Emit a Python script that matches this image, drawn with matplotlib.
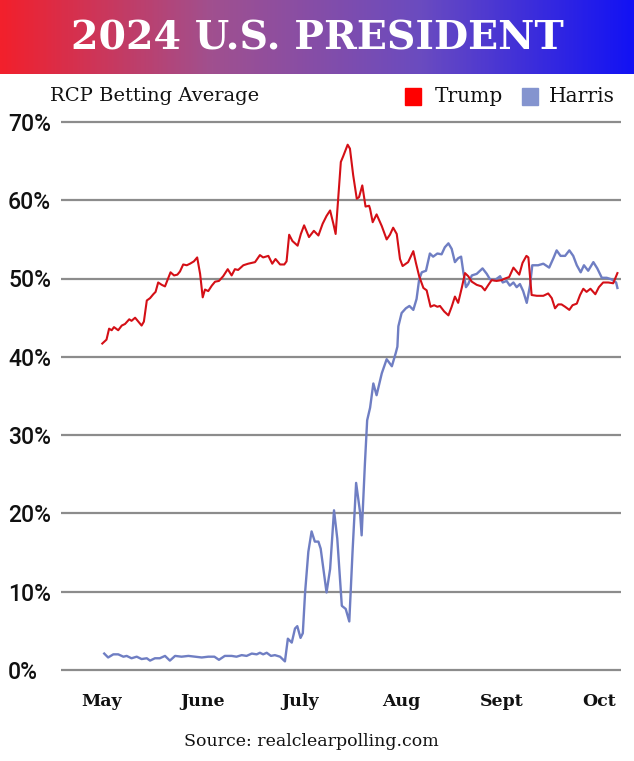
import numpy as np
import matplotlib
matplotlib.use("Agg")
import matplotlib.pyplot as plt
from matplotlib.colors import LinearSegmentedColormap
from matplotlib.patches import Rectangle

# RCP betting average, days counted from May 1 2024
trump_day = [0.1, 1.4, 2.2, 3.0, 3.7, 5.0, 6.1, 7.1, 8.4, 9.1, 10.2, 11.2, 12.2, 12.9,
             13.8, 14.8, 15.8, 16.5, 17.3, 18.4, 19.4, 21.1, 22.2, 23.2, 24.0, 25.0,
             26.1, 27.1, 28.3, 29.3, 30.2, 31.0, 31.7, 32.7, 33.8, 34.8, 36.0, 37.3,
             38.7, 39.9, 40.9, 41.9, 43.5, 45.0, 47.1, 48.6, 49.6, 51.2, 52.4, 53.4,
             54.8, 56.1, 56.8, 57.6, 58.6, 60.2, 61.2, 62.2, 63.7, 65.2, 66.6, 67.9,
             69.1, 70.2, 71.2, 71.9, 73.5, 74.2, 75.6, 76.3, 77.3, 78.4, 79.1, 80.1,
             81.1, 82.2, 82.5, 83.3, 84.5, 86.1, 87.6, 88.6, 89.6, 90.7, 91.7, 92.5,
             94.2, 95.8, 96.6, 97.6, 98.9, 99.9, 101.1, 102.2, 103.2, 104.0, 105.3,
             106.6, 107.6, 108.6, 109.6, 110.7, 111.7, 112.7, 113.8, 115.3, 116.8,
             117.8, 118.9, 119.9, 121.4, 123.0, 124.0, 125.3, 126.6, 127.6, 128.4,
             129.4, 130.6, 131.2, 132.2, 133.8, 135.8, 137.3, 138.4, 139.4, 140.4,
             141.4, 142.5, 143.8, 144.8, 146.1, 147.1, 148.1, 149.1, 150.3, 151.8,
             152.9, 154.2, 155.8, 157.3, 158.6]
trump_pct = [41.7, 42.2, 43.6, 43.4, 43.8, 43.4, 44.0, 44.2, 44.8, 44.6, 45.0, 44.5, 44.0, 44.5,
             47.2, 47.5, 48.0, 48.3, 49.5, 49.2, 49.0, 50.8, 50.4, 50.5, 50.9, 51.8,
             51.7, 51.9, 52.2, 52.7, 50.6, 47.6, 48.6, 48.4, 49.1, 49.6, 49.7, 50.3,
             51.2, 50.4, 51.2, 51.1, 51.7, 51.9, 52.1, 53.0, 52.7, 52.9, 51.9, 52.5,
             51.8, 51.8, 52.2, 55.6, 54.8, 54.2, 55.7, 56.8, 55.3, 56.1, 55.5, 57.0,
             58.0, 58.7, 57.0, 55.7, 64.9, 65.6, 67.1, 66.6, 63.2, 60.2, 60.4, 61.9,
             59.2, 59.3, 58.9, 57.2, 58.2, 56.7, 55.0, 55.6, 56.5, 55.7, 52.5, 51.6,
             52.1, 53.5, 52.0, 50.3, 48.8, 48.5, 46.4, 46.6, 46.4, 46.5, 45.8,
             45.3, 46.4, 47.7, 46.9, 48.8, 50.7, 50.3, 49.6, 49.2, 49.0,
             48.5, 49.2, 49.8, 49.7, 49.8, 50.0, 50.2, 51.4, 50.9, 50.5,
             52.0, 52.9, 52.7, 47.9, 47.8, 47.8, 48.1, 47.5, 46.2, 46.7,
             46.7, 46.4, 46.0, 46.6, 46.8, 47.9, 48.7, 48.3, 48.7, 48.0,
             48.9, 49.5, 49.5, 49.4, 50.7]

harris_day = [0.7, 1.9, 3.5, 5.0, 6.6, 7.6, 9.1, 10.7, 12.2, 13.8, 14.8, 16.3, 17.8, 19.4,
              20.9, 22.5, 24.5, 26.6, 28.6, 30.7, 32.7, 34.6, 36.0, 37.8, 39.9, 41.4,
              43.0, 44.5, 46.1, 47.6, 48.6, 49.6, 50.7, 52.0, 53.2, 54.8, 56.3, 57.2,
              58.4, 59.4, 60.1, 61.1, 61.8, 62.5, 63.5, 64.5, 65.5, 66.6, 67.3, 69.1,
              70.2, 71.4, 72.4, 73.8, 75.0, 76.1, 77.1, 78.2, 79.4, 79.9, 80.9, 81.6,
              82.5, 83.5, 84.5, 86.1, 87.6, 89.2, 90.4, 90.9, 91.2, 92.2, 93.5, 94.6,
              95.8, 96.8, 97.6, 98.4, 99.7, 100.9, 101.9, 103.2, 104.5, 105.5, 106.6,
              107.6, 108.6, 109.6, 110.5, 111.2, 112.0, 112.7, 113.8, 115.3, 117.1,
              118.4, 119.4, 120.9, 122.5, 123.3, 124.5, 125.5, 126.6, 127.6, 128.6,
              129.6, 130.7, 131.7, 132.4, 134.2, 135.8, 137.6, 138.9, 139.9, 141.1,
              142.5, 143.8, 145.0, 146.1, 147.3, 148.3, 149.6, 151.2, 152.4, 153.8,
              155.3, 156.8, 158.2, 158.6]
harris_pct = [2.1, 1.6, 2.0, 2.0, 1.7, 1.8, 1.5, 1.7, 1.4, 1.5, 1.2, 1.5, 1.5, 1.8,
              1.2, 1.8, 1.7, 1.8, 1.7, 1.6, 1.7, 1.7, 1.3, 1.8, 1.8, 1.7,
              1.9, 1.8, 2.1, 2.0, 2.2, 2.0, 2.2, 1.8, 1.9, 1.7, 1.1, 4.0,
              3.5, 5.3, 5.6, 4.1, 4.7, 9.9, 15.1, 17.7, 16.4, 16.4, 15.5, 9.9,
              12.9, 20.4, 16.8, 8.2, 7.8, 6.2, 15.1, 23.9, 20.2, 17.2, 26.3, 31.9,
              33.5, 36.6, 35.1, 37.9, 39.7, 38.8, 40.5, 41.3, 43.9, 45.6, 46.2, 46.5,
              46.0, 47.4, 49.9, 50.8, 51.0, 53.2, 52.8, 53.2, 53.1, 54.0, 54.5,
              53.8, 52.1, 52.6, 52.8, 50.8, 48.9, 49.3, 50.4, 50.6, 51.3,
              50.6, 49.9, 49.8, 50.3, 49.5, 49.7, 49.1, 49.5, 48.9, 49.3,
              48.4, 46.9, 49.1, 51.7, 51.7, 51.9, 51.4, 52.6, 53.6, 52.9,
              52.9, 53.6, 52.9, 51.7, 50.8, 51.7, 51.0, 52.1, 51.3, 50.1,
              50.1, 49.9, 49.5, 48.8]

month_days = [0, 31, 61, 92, 123, 153]
month_labels = ["May", "June", "July", "Aug", "Sept", "Oct"]
y_ticks = [0, 10, 20, 30, 40, 50, 60, 70]

W, H = 634, 761
fig = plt.figure(figsize=(W / 100, H / 100), dpi=100)
fig.patch.set_facecolor("white")

# gradient banner
ban = fig.add_axes([0, 1 - 74 / H, 1, 74 / H])
cmap = LinearSegmentedColormap.from_list("rb", ["#f2202c", "#a0508f", "#6a4bc0", "#1212f4"])
ban.imshow(np.linspace(0, 1, 400)[None, :], aspect="auto", cmap=cmap, extent=[0, 1, 0, 1])
ban.set_axis_off()
title = fig.text(0.5, 1 - 38 / H, "2024 U.S. PRESIDENT", color="white", ha="center",
                 va="center", fontsize=30, fontweight="bold", family="DejaVu Serif")
fig.canvas.draw()
tw = title.get_window_extent().width
title.set_fontsize(30 * 492 / tw)

# plot area: 0% at y=670px, 70% at y=122px, x from 61 to 621 px
lo, hi = -0.5, 70.5
px0 = 670 + 0.5 * 548 / 70
px1 = 122 - 0.5 * 548 / 70
ax = fig.add_axes([61 / W, 1 - px0 / H, 560 / W, (px0 - px1) / H])
ax.set_ylim(lo, hi)
ax.set_xlim(-12.6, 159.7)
for v in y_ticks:
    ax.axhline(v, color="#8c8c8c", lw=1.6, zorder=1)
    ax.text(-53 / 560, v - 0.3, f"{v}%", transform=ax.get_yaxis_transform(), ha="left",
            va="center", fontsize=16.5, family="Roboto", fontweight="medium", color="#111111")

ax.plot(harris_day, harris_pct, color="#6f7ec3", lw=1.7, zorder=3)
ax.plot(trump_day, trump_pct, color="#d40f16", lw=1.5, zorder=4)

ax.set_xticks(month_days)
ax.set_xticklabels(month_labels, family="DejaVu Serif", fontweight="bold", fontsize=12.5,
                   color="#111111")
ax.tick_params(axis="x", length=0, pad=14)
ax.set_yticks([])
for s in ax.spines.values():
    s.set_visible(False)

# subtitle and legend
fig.text(50 / W, 1 - 96 / H, "RCP Betting Average", ha="left", va="center", fontsize=14,
         family="DejaVu Serif", color="#111111")
fig.patches.append(Rectangle((405 / W, 1 - 105 / H), 16 / W, 17 / H, color="#ff0000",
                             transform=fig.transFigure, figure=fig))
fig.text(435 / W, 1 - 97 / H, "Trump", ha="left", va="center", fontsize=14.5,
         family="DejaVu Serif", color="#111111")
fig.patches.append(Rectangle((522 / W, 1 - 105 / H), 16 / W, 17 / H, color="#8494cf",
                             transform=fig.transFigure, figure=fig))
fig.text(549 / W, 1 - 97 / H, "Harris", ha="left", va="center", fontsize=14.5,
         family="DejaVu Serif", color="#111111")

fig.text(311 / W, 1 - 741 / H, "Source: realclearpolling.com", ha="center", va="center",
         fontsize=12.5, family="DejaVu Serif", color="#111111")

fig.savefig("out.png", dpi=100)
